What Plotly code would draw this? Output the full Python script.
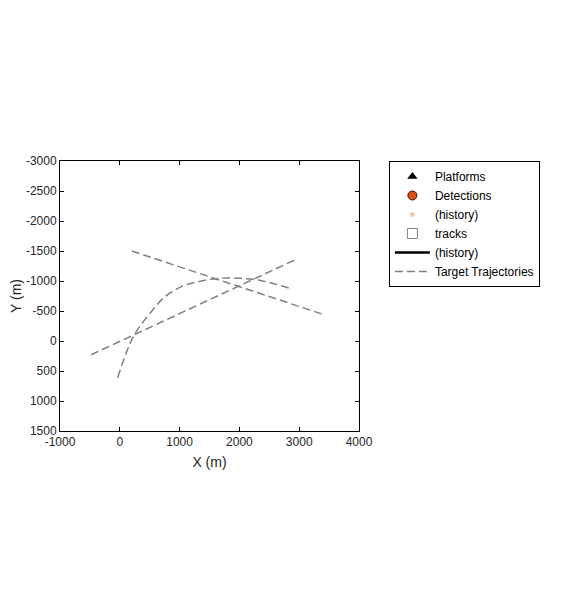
import plotly.graph_objects as go

# Target trajectories (X, Y in metres)
traj1_x = [200, 3410]
traj1_y = [-1500, -440]
traj2_x = [-480, 2970]
traj2_y = [230, -1370]
traj3_x = [-35, 226, 505, 756, 1034, 1313, 1647, 2038, 2372, 2891]
traj3_y = [611, -72, -461, -739, -906, -989, -1044, -1044, -1006, -861]

x_ticks = [-1000, 0, 1000, 2000, 3000, 4000]
y_ticks = [-3000, -2500, -2000, -1500, -1000, -500, 0, 500, 1000, 1500]

fig = go.Figure()
fig.add_trace(go.Scatter(x=[None], y=[None], mode="markers", name="Platforms",
                         marker=dict(symbol="triangle-up", color="black", size=9)))
fig.add_trace(go.Scatter(x=[None], y=[None], mode="markers", name="Detections",
                         marker=dict(symbol="circle", color="#D95319", size=9,
                                     line=dict(color="#3a1a0a", width=1))))
fig.add_trace(go.Scatter(x=[None], y=[None], mode="markers", name="(history)",
                         marker=dict(symbol="circle", color="#ecc9b8", size=5)))
fig.add_trace(go.Scatter(x=[None], y=[None], mode="markers", name="tracks",
                         marker=dict(symbol="square-open", color="#808080", size=10,
                                     line=dict(width=1))))
fig.add_trace(go.Scatter(x=[None], y=[None], mode="lines", name="(history)",
                         line=dict(color="black", width=2.5)))

dash_line = dict(color="#808080", width=1.5, dash="8px,4px")
fig.add_trace(go.Scatter(x=traj1_x, y=traj1_y, mode="lines", name="Target Trajectories",
                         line=dash_line, legendgroup="traj"))
fig.add_trace(go.Scatter(x=traj2_x, y=traj2_y, mode="lines", showlegend=False,
                         line=dash_line, legendgroup="traj"))
fig.add_trace(go.Scatter(x=traj3_x, y=traj3_y, mode="lines", showlegend=False,
                         line=dict(color="#808080", width=1.5, dash="8px,4px", shape="spline"),
                         legendgroup="traj"))

axis_common = dict(showgrid=False, zeroline=False, showline=True, mirror="ticks",
                   linecolor="black", linewidth=1, ticks="inside", ticklen=4,
                   tickcolor="black", tickfont=dict(size=12, color="#262626"),
                   automargin=False)

fig.update_layout(
    width=576, height=614,
    paper_bgcolor="white", plot_bgcolor="white",
    margin=dict(l=52, r=225, t=153, b=191),
    font=dict(family="Liberation Sans, Arial, sans-serif", color="#262626"),
    xaxis=dict(range=[-1000, 4000], tickvals=x_ticks, ticktext=[str(v) for v in x_ticks],
               title=dict(text="X (m)", font=dict(size=14), standoff=8), **axis_common),
    yaxis=dict(range=[1500, -3000], tickvals=y_ticks, ticktext=[str(v) for v in y_ticks],
               title=dict(text="Y (m)", font=dict(size=14), standoff=14), **axis_common),
    legend=dict(x=1.1, y=1.0, xanchor="left", yanchor="top", bgcolor="white",
                bordercolor="black", borderwidth=1, font=dict(size=12, color="black"),
                itemwidth=35, tracegroupgap=0),
    showlegend=True,
)

fig.write_html("out.html")
